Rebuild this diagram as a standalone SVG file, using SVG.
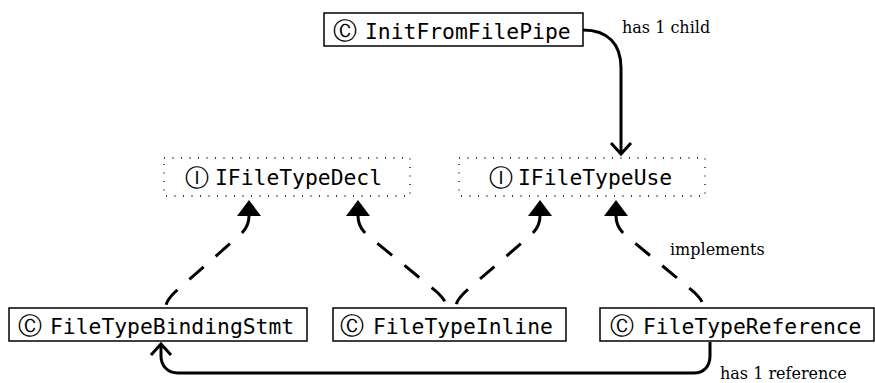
<svg xmlns="http://www.w3.org/2000/svg" width="875" height="383" viewBox="0 0 875 383">
  <style>
    .box { fill: #fff; stroke: #000; stroke-width: 1.5; }
    .ibox { fill: none; stroke: #000; stroke-width: 1.3; stroke-dasharray: 1 7.5; }
    .name { font-family: "DejaVu Sans Mono", "Liberation Mono", monospace; font-size: 21.35px; fill: #000; }
    .sym { font-family: "DejaVu Sans", sans-serif; font-size: 24px; fill: #000; text-anchor: middle; }
    .lbl { font-family: "DejaVu Serif", "Liberation Serif", serif; font-size: 16px; fill: #000; }
    .link { fill: none; stroke: #000; stroke-width: 3; }
    .impl { fill: none; stroke: #000; stroke-width: 3; stroke-dasharray: 19 16; }
  </style>
  <defs>
    <!-- open chevron for containment / reference edges -->
    <marker id="open" viewBox="0 0 20 24" refX="12" refY="12" markerWidth="20" markerHeight="24" markerUnits="userSpaceOnUse" orient="auto">
      <path d="M1,2 L12,12 L1,22" fill="none" stroke="#000" stroke-width="3"/>
    </marker>
    <!-- filled triangle for "implements" edges, placed at path start -->
    <marker id="tri" viewBox="0 0 16 24" refX="0" refY="12" markerWidth="16" markerHeight="24" markerUnits="userSpaceOnUse" orient="auto-start-reverse">
      <path d="M0,0 L16,12 L0,24 Z" fill="#000"/>
    </marker>
  </defs>

  <g id="connectors">
    <path class="link" d="M583,30 C608,30 621,44 621,68 L621,154" marker-end="url(#open)"/>
    <text class="lbl" x="622" y="33">has 1 child</text>

    <path class="impl" d="M249,216 C249,224 246,229 241,234 L175,292 C170,297 166,301 166,307" marker-start="url(#tri)"/>
    <path class="impl" d="M358,216 C358,224 361,229 366,234 L437,292 C442,297 446,301 446,307" marker-start="url(#tri)"/>
    <path class="impl" d="M540,216 C540,224 537,229 532,234 L465,292 C460,297 456,301 456,307" marker-start="url(#tri)"/>
    <path class="impl" d="M616,216 C616,224 619,229 624,234 L694,292 C699,297 703,301 703,307" marker-start="url(#tri)"/>
    <text class="lbl" x="670" y="255">implements</text>

    <path class="link" d="M710,342 L710,356 C710,366 704,373 694,373 L178,373 C168,373 161,366 161,356 L161,344" marker-end="url(#open)"/>
    <text class="lbl" x="720" y="379">has 1 reference</text>
  </g>

  <g id="InitFromFilePipe">
    <rect class="box" x="324" y="13" width="259" height="33"/>
    <text class="sym" x="344.5" y="38.5">Ⓒ</text>
    <text class="name" x="365" y="38.5">InitFromFilePipe</text>
  </g>

  <g id="IFileTypeDecl">
    <rect class="ibox" x="164" y="158" width="246" height="38"/>
    <text class="sym" x="197" y="185.5">Ⓘ</text>
    <text class="name" x="215" y="185">IFileTypeDecl</text>
  </g>

  <g id="IFileTypeUse">
    <rect class="ibox" x="459" y="158" width="246" height="38"/>
    <text class="sym" x="501" y="185.5">Ⓘ</text>
    <text class="name" x="518" y="185">IFileTypeUse</text>
  </g>

  <g id="FileTypeBindingStmt">
    <rect class="box" x="9" y="308" width="298" height="33"/>
    <text class="sym" x="29.5" y="333.5">Ⓒ</text>
    <text class="name" x="50" y="333.5">FileTypeBindingStmt</text>
  </g>

  <g id="FileTypeInline">
    <rect class="box" x="333" y="308" width="233" height="33"/>
    <text class="sym" x="352" y="333.5">Ⓒ</text>
    <text class="name" x="373" y="333.5">FileTypeInline</text>
  </g>

  <g id="FileTypeReference">
    <rect class="box" x="600" y="308" width="274" height="33"/>
    <text class="sym" x="622" y="333.5">Ⓒ</text>
    <text class="name" x="643" y="333.5">FileTypeReference</text>
  </g>
</svg>
